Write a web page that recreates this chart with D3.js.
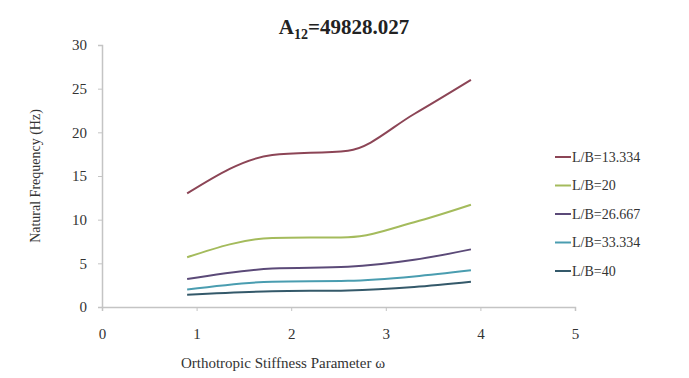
<!DOCTYPE html>
<html>
<head>
<meta charset="utf-8">
<script src="https://cdn.jsdelivr.net/npm/d3@7"></script>
<style>
  body { margin: 0; background: #fff; }
  svg { display: block; font-family: "Liberation Serif", "DejaVu Serif", serif; }
  svg text { font-family: "Liberation Serif", "DejaVu Serif", serif; }
</style>
</head>
<body>
<div id="chart"></div>
<script>
// stiffness parameter values (x)
const omega = [0.9, 1.8, 2.6, 3.3, 3.9];
// natural frequency per L/B ratio
const seriesNames = ['L/B=13.334', 'L/B=20', 'L/B=26.667', 'L/B=33.334', 'L/B=40'];
const lb13334 = [13.0, 17.4, 17.9, 22.1, 26.0];
const lb20 = [5.7, 7.9, 8.0, 9.7, 11.7];
const lb26667 = [3.2, 4.4, 4.6, 5.4, 6.6];
const lb33334 = [2.0, 2.9, 3.0, 3.5, 4.2];
const lb40 = [1.4, 1.8, 1.9, 2.3, 2.9];
const xTicks = [0, 1, 2, 3, 4, 5];
const yTicks = [0, 5, 10, 15, 20, 25, 30];

const colors = ['#8c4556', '#a4bb5c', '#5b4a78', '#4a9db0', '#34596a'];
const allSeries = [lb13334, lb20, lb26667, lb33334, lb40];

const width = 689, height = 378;
const svg = d3.select('#chart').append('svg')
    .attr('width', width)
    .attr('height', height);

const x = d3.scaleLinear().domain([0, 5]).range([102, 575]);
const y = d3.scaleLinear().domain([0, 30]).range([307, 45]);

// axes
const xAxis = svg.append('g')
    .attr('transform', `translate(0, ${y(0)})`)
    .call(d3.axisBottom(x).tickValues(xTicks).tickFormat(d3.format('d')).tickSize(4).tickPadding(17));
const yAxis = svg.append('g')
    .attr('transform', `translate(${x(0)}, 0)`)
    .call(d3.axisLeft(y).tickValues(yTicks).tickSize(4).tickPadding(11));

[xAxis, yAxis].forEach(g => {
  g.attr('font-family', null);
  g.select('.domain').attr('stroke', '#c4c4c4').attr('stroke-width', 1.5);
  g.selectAll('.tick line').attr('stroke', '#c4c4c4');
  g.selectAll('.tick text')
      .attr('fill', '#333')
      .style('font-size', '15px');
});

// lines
const line = d3.line()
    .x((d, i) => x(omega[i]))
    .y(d => y(d))
    .curve(d3.curveMonotoneX);

svg.append('g').selectAll('path')
    .data(allSeries)
    .join('path')
    .attr('d', d => line(d))
    .attr('fill', 'none')
    .attr('stroke', (d, i) => colors[i])
    .attr('stroke-width', 2);

// title
const title = svg.append('text')
    .attr('x', 344)
    .attr('y', 34)
    .attr('text-anchor', 'middle')
    .attr('fill', '#222')
    .style('font-size', '21px')
    .style('font-weight', 'bold');
title.append('tspan').text('A');
title.append('tspan').attr('dy', 5).style('font-size', '14px').text('12');
title.append('tspan').attr('dy', -5).text('=49828.027');

// axis titles
svg.append('text')
    .attr('transform', `translate(40, 176) rotate(-90)`)
    .attr('text-anchor', 'middle')
    .attr('fill', '#333')
    .style('font-size', '14px')
    .text('Natural Frequency (Hz)');

svg.append('text')
    .attr('x', 283)
    .attr('y', 368)
    .attr('text-anchor', 'middle')
    .attr('fill', '#333')
    .style('font-size', '15px')
    .text('Orthotropic Stiffness Parameter ω');

// legend
const legend = svg.append('g').attr('transform', 'translate(555, 157)');
const rows = legend.selectAll('g')
    .data(seriesNames)
    .join('g')
    .attr('transform', (d, i) => `translate(0, ${i * 28.5})`);
rows.append('line')
    .attr('x1', 0).attr('x2', 16)
    .attr('stroke', (d, i) => colors[i])
    .attr('stroke-width', 2);
rows.append('text')
    .attr('x', 17)
    .attr('dy', '0.35em')
    .attr('fill', '#333')
    .style('font-size', '14px')
    .text(d => d);
</script>
</body>
</html>
